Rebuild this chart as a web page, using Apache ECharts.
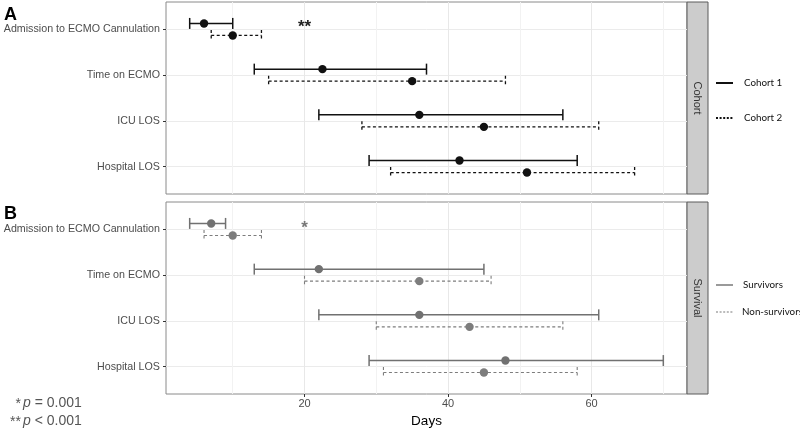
<!DOCTYPE html>
<html><head><meta charset="utf-8">
<script src="https://cdn.jsdelivr.net/npm/echarts@6/dist/echarts.min.js"></script>
<style>html,body{margin:0;padding:0;background:#fff}#c{width:800px;height:429px}</style>
</head><body><div id="c"></div>
<script>
const categories = ['Admission to ECMO Cannulation', 'Time on ECMO', 'ICU LOS', 'Hospital LOS'];
const cohort1Low  = [4, 13, 22, 29];
const cohort1Mid  = [6, 22.5, 36, 41.6];
const cohort1High = [10, 37, 56, 58];
const cohort2Low  = [7, 15, 28, 32];
const cohort2Mid  = [10, 35, 45, 51];
const cohort2High = [14, 48, 61, 66];
const survLow     = [4, 13, 22, 29];
const survMid     = [7, 22, 36, 48];
const survHigh    = [9, 45, 61, 70];
const nonSurvLow  = [6, 20, 30, 31];
const nonSurvMid  = [10, 36, 43, 45];
const nonSurvHigh = [14, 46, 56, 58];
const xMajorTicks = [20, 40, 60];
const xMinorTicks = [10, 30, 50, 70];
const sigA = [{ category: 0, x: 20, text: '**' }];
const sigB = [{ category: 0, x: 20, text: '*' }];

const X_MIN = 0.7, X_MAX = 73.3;
const catPos = [1, 2, 3, 4];

function build(lo, mid, hi) {
  return lo.map((v, i) => [v, mid[i], hi[i], catPos[i]]);
}
function errRender(offset, color, width, dash) {
  return function (params, api) {
    const yv = api.value(3);
    const pl = api.coord([api.value(0), yv]);
    const pm = api.coord([api.value(1), yv]);
    const ph = api.coord([api.value(2), yv]);
    const yy = pl[1] + offset;
    const st = { stroke: color, lineWidth: width, lineDash: dash || null, fill: null };
    return { type: 'group', children: [
      { type: 'line', shape: { x1: pl[0], y1: yy, x2: ph[0], y2: yy }, style: st },
      { type: 'line', shape: { x1: pl[0], y1: yy - 5.5, x2: pl[0], y2: yy + 5.5 }, style: st },
      { type: 'line', shape: { x1: ph[0], y1: yy - 5.5, x2: ph[0], y2: yy + 5.5 }, style: st },
      { type: 'circle', shape: { cx: pm[0], cy: yy, r: 4.2 }, style: { fill: color } }
    ]};
  };
}
function sigRender(offset, color, size) {
  return function (params, api) {
    const p = api.coord([api.value(0), api.value(1)]);
    return { type: 'text', x: p[0], y: p[1] + offset, style: {
      text: api.value(2), fill: color, font: 'bold ' + size + 'px "Liberation Sans", Arial, sans-serif',
      align: 'center', verticalAlign: 'middle' } };
  };
}
function sigData(arr) { return arr.map(s => [s.x, catPos[s.category], s.text]); }

function xAxes(gi, showLabels) {
  return [
    { type: 'value', gridIndex: gi, min: X_MIN, max: X_MAX,
      axisLine: { show: false },
      axisTick: { show: showLabels, customValues: xMajorTicks, length: 3, lineStyle: { color: '#333' } },
      axisLabel: { show: showLabels, customValues: xMajorTicks, color: '#4d4d4d', fontSize: 11, margin: 4,
        fontFamily: '"Liberation Sans", Arial, sans-serif' },
      splitLine: { show: true, lineStyle: { color: '#e8e8e8', width: 1 } },
      name: showLabels ? 'Days' : '', nameLocation: 'middle', nameGap: 20,
      nameTextStyle: { color: '#000', fontSize: 13.5, fontFamily: '"Liberation Sans", Arial, sans-serif' } },
    { type: 'value', gridIndex: gi, min: X_MIN, max: X_MAX,
      axisLine: { show: false }, axisLabel: { show: false },
      axisTick: { show: false, customValues: xMinorTicks },
      splitLine: { show: true, lineStyle: { color: '#f2f2f2', width: 1 } } }
  ];
}
function yAxis(gi) {
  return { type: 'value', gridIndex: gi, min: 0.4, max: 4.6, inverse: true,
    axisLine: { show: false },
    axisTick: { show: true, customValues: catPos, length: 3, lineStyle: { color: '#333' } },
    axisLabel: { customValues: catPos, color: '#4d4d4d', fontSize: 10.7, margin: 6,
      fontFamily: '"Liberation Sans", Arial, sans-serif',
      formatter: v => categories[Math.round(v) - 1] || '' },
    splitLine: { show: true, lineStyle: { color: '#ebebeb', width: 1 } } };
}

const BLACK = '#111', GRAY = '#717171', GRAY2 = '#7d7d7d';
const font = '"Liberation Sans", Arial, sans-serif';
const legFont = 'Lato, "Open Sans", sans-serif';

const option = {
  animation: false,
  backgroundColor: '#fff',
  grid: [
    { left: 166, top: 2, width: 521, height: 192, show: true, borderColor: '#8a8a8a', borderWidth: 1, backgroundColor: '#fff', outerBoundsMode: 'none', containLabel: false },
    { left: 166, top: 202, width: 521, height: 192, show: true, borderColor: '#8a8a8a', borderWidth: 1, backgroundColor: '#fff', outerBoundsMode: 'none', containLabel: false }
  ],
  xAxis: [...xAxes(0, false), ...xAxes(1, true)],
  yAxis: [yAxis(0), yAxis(1)],
  series: [
    { type: 'custom', xAxisIndex: 0, yAxisIndex: 0, data: build(cohort1Low, cohort1Mid, cohort1High),
      renderItem: errRender(-6, BLACK, 1.5, null), z: 3 },
    { type: 'custom', xAxisIndex: 0, yAxisIndex: 0, data: build(cohort2Low, cohort2Mid, cohort2High),
      renderItem: errRender(6, BLACK, 1.3, [3, 2.5]), z: 3 },
    { type: 'custom', xAxisIndex: 2, yAxisIndex: 1, data: build(survLow, survMid, survHigh),
      renderItem: errRender(-6, GRAY, 1.5, null), z: 3 },
    { type: 'custom', xAxisIndex: 2, yAxisIndex: 1, data: build(nonSurvLow, nonSurvMid, nonSurvHigh),
      renderItem: errRender(6, GRAY2, 1.1, [3, 2.5]), z: 3 },
    { type: 'custom', xAxisIndex: 0, yAxisIndex: 0, data: sigData(sigA), renderItem: sigRender(-2, '#222', 17), z: 4 },
    { type: 'custom', xAxisIndex: 2, yAxisIndex: 1, data: sigData(sigB), renderItem: sigRender(-1, '#777', 17), z: 4 }
  ],
  graphic: [
    { type: 'rect', shape: { x: 687, y: 2, width: 21, height: 192 }, style: { fill: '#cccccc', stroke: '#5a5a5a', lineWidth: 1 } },
    { type: 'rect', shape: { x: 687, y: 202, width: 21, height: 192 }, style: { fill: '#cccccc', stroke: '#5a5a5a', lineWidth: 1 } },
    { type: 'text', x: 697.5, y: 98, rotation: -Math.PI / 2, style: { text: 'Cohort', fill: '#333', font: '11px ' + font, align: 'center', verticalAlign: 'middle' } },
    { type: 'text', x: 697.5, y: 298, rotation: -Math.PI / 2, style: { text: 'Survival', fill: '#333', font: '11px ' + font, align: 'center', verticalAlign: 'middle' } },
    { type: 'text', x: 4, y: 15, style: { text: 'A', fill: '#000', font: 'bold 18px ' + font, verticalAlign: 'middle' } },
    { type: 'text', x: 4, y: 214, style: { text: 'B', fill: '#000', font: 'bold 18px ' + font, verticalAlign: 'middle' } },
    // legends
    { type: 'line', shape: { x1: 716, y1: 83, x2: 733, y2: 83 }, style: { stroke: '#111', lineWidth: 2 } },
    { type: 'text', x: 744, y: 83, style: { text: 'Cohort 1', fill: '#111', font: '9.8px ' + legFont, verticalAlign: 'middle' } },
    { type: 'line', shape: { x1: 716, y1: 118, x2: 733, y2: 118 }, style: { stroke: '#111', lineWidth: 2, lineDash: [2, 1.6] } },
    { type: 'text', x: 744, y: 118, style: { text: 'Cohort 2', fill: '#111', font: '9.8px ' + legFont, verticalAlign: 'middle' } },
    { type: 'line', shape: { x1: 716, y1: 285, x2: 733, y2: 285 }, style: { stroke: '#9a9a9a', lineWidth: 2 } },
    { type: 'text', x: 743, y: 285, style: { text: 'Survivors', fill: '#111', font: '9.8px ' + legFont, verticalAlign: 'middle' } },
    { type: 'line', shape: { x1: 716, y1: 312, x2: 733, y2: 312 }, style: { stroke: '#a5a5a5', lineWidth: 1.5, lineDash: [2, 1.6] } },
    { type: 'text', x: 742, y: 312, style: { text: 'Non-survivors', fill: '#111', font: '9.8px ' + legFont, verticalAlign: 'middle' } },
    // footnote
    { type: 'text', x: 21, y: 404, style: { text: '*', fill: '#555', font: '14px ' + font, align: 'right', verticalAlign: 'middle' } },
    { type: 'text', x: 23, y: 403, style: { text: '{i|p} = 0.001', fill: '#555', font: '14px ' + font, verticalAlign: 'middle',
      rich: { i: { fontStyle: 'italic', fontSize: 14, fill: '#555', fontFamily: font } } } },
    { type: 'text', x: 21, y: 422, style: { text: '**', fill: '#555', font: '14px ' + font, align: 'right', verticalAlign: 'middle' } },
    { type: 'text', x: 23, y: 421, style: { text: '{i|p} < 0.001', fill: '#555', font: '14px ' + font, verticalAlign: 'middle',
      rich: { i: { fontStyle: 'italic', fontSize: 14, fill: '#555', fontFamily: font } } } }
  ]
};
const chart = echarts.init(document.getElementById('c'), null, { renderer: 'canvas' });
chart.setOption(option);
</script></body></html>
